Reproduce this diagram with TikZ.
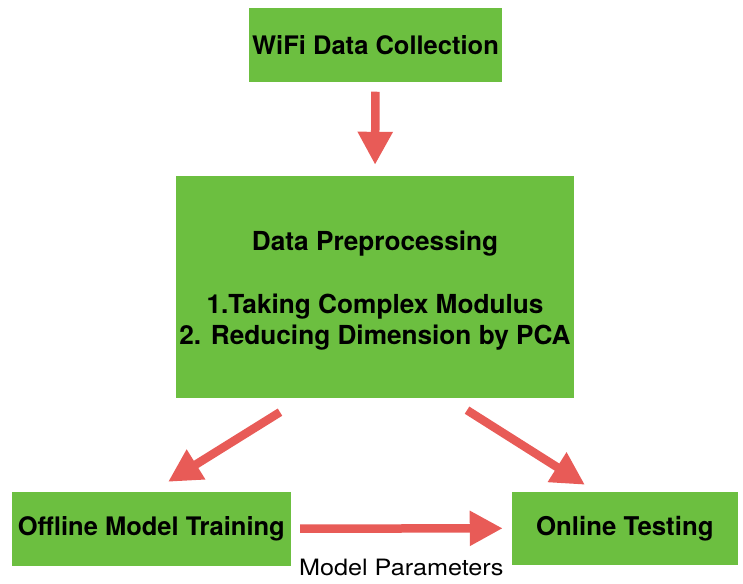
\documentclass[tikz,border=0pt]{standalone}
\usepackage{fontspec}
\setmainfont{TeX Gyre Heros}
\newfontfamily\paramfont[FakeStretch=1.12]{TeX Gyre Heros}
\usetikzlibrary{arrows.meta}
\definecolor{boxgreen}{RGB}{108,191,64}
\definecolor{flowred}{RGB}{232,91,87}
\tikzset{
  stagebox/.style={fill=boxgreen, inner sep=0pt, align=center,
    font=\bfseries\fontsize{25.5}{31.5}\selectfont},
  flow/.style={draw=flowred, line width=8.5pt,
    -{Triangle[width=33pt,length=33pt]}}
}
\begin{document}
\begin{tikzpicture}[x=1pt,y=1pt]
\useasboundingbox (0,0) rectangle (743,583);
\node[stagebox, minimum width=253pt, minimum height=73.5pt] (collect) at (375.5,538.2) {WiFi Data Collection};
\node[stagebox, minimum width=398pt, minimum height=222pt,
  font=\bfseries\fontsize{26.2}{31.5}\selectfont] (prep) at (375,296)
  {\rule{0pt}{27pt}Data Preprocessing\\ \\1.Taking Complex Modulus\\2. Reducing Dimension by PCA};
\node[stagebox, minimum width=279.3pt, minimum height=74pt] (train) at (151.3,54.3) {Offline Model Training};
\node[stagebox, minimum width=226.3pt, minimum height=73.3pt,
  font=\bfseries\fontsize{25.8}{31.5}\selectfont] (test) at (624.8,54.7) {Online Testing};
\draw[flow, shorten <=10pt, shorten >=11pt] (collect.south) -- (prep.north);
\draw[flow, shorten <=26.4pt, shorten >=18.3pt] ([xshift=-72.6pt]prep.south) -- ([xshift=1.2pt]train.north);
\draw[flow, shorten <=22.4pt, shorten >=12.5pt] ([xshift=73.1pt]prep.south) -- ([xshift=-29.3pt]test.north);
\draw[flow, shorten <=9pt, shorten >=8.7pt] (train.east) -- (test.west)
  node[midway, yshift=-47pt, anchor=base, font=\paramfont\fontsize{22.5}{27}\selectfont] (params) {Model Parameters};
\end{tikzpicture}
\end{document}
